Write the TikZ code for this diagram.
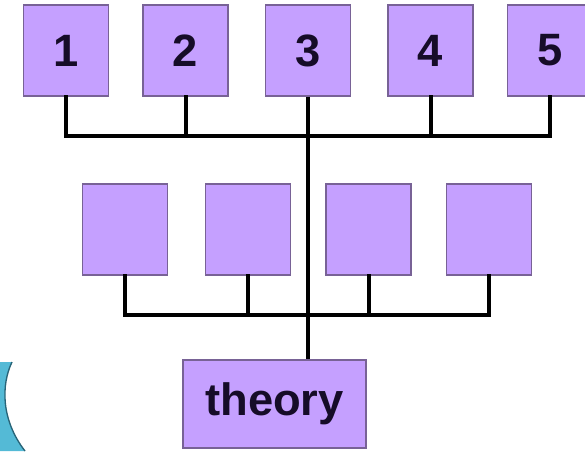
\documentclass[tikz,border=0pt]{standalone}
\usepackage{fontspec}
\setmainfont{Liberation Sans}
\begin{document}
\begin{tikzpicture}[x=0.75pt,y=0.75pt,yscale=-1,xscale=1,
  pbox/.style={draw={rgb, 255:red, 120; green, 98; blue, 150 },line width=0.8pt,fill={rgb, 255:red, 197; green, 160; blue, 255 },inner sep=0pt,minimum width=63.75pt,minimum height=68.25pt,text={rgb, 255:red, 22; green, 12; blue, 40 },font=\fontsize{34}{34}\selectfont\bfseries},
  wire/.style={line width=3pt,line cap=rect}]
\useasboundingbox (0,0) rectangle (585,451);

%Shapes [id:cyanarc]
\fill [color={rgb, 255:red, 84; green, 186; blue, 214 }  ] (0,362) -- (12,362) .. controls (1,385) and (1,420) .. (25,451) -- (0,451) -- cycle ;
\draw [color={rgb, 255:red, 40; green, 100; blue, 120 }  ,line width=1pt ] (12,362) .. controls (1,385) and (1,420) .. (25,451) ;

% Text Node
\node (t1) at (66,50.5) [pbox] {1};
% Text Node
\node (t2) at (185.5,50.5) [pbox] {2};
% Text Node
\node (t3) at (308,50.5) [pbox] {3};
% Text Node
\node (t4) at (430.5,50.5) [pbox] {4};
% Text Node
\node (t5) at (550,50.5) [pbox] {5};

% Text Node
\node (m1) at (125,229.5) [pbox] {};
% Text Node
\node (m2) at (248,229.5) [pbox] {};
% Text Node
\node (m3) at (368.5,229.5) [pbox] {};
% Text Node
\node (m4) at (489,229.5) [pbox] {};

% Text Node
\node (th) at (274.5,404) [pbox,minimum width=137.25pt,minimum height=66pt] {theory};

\coordinate (topbus) at (308,136);
\coordinate (midbus) at (308,315);

%Straight Lines [id:topbus]
\draw [wire]   (t1.south) |- (topbus) -| (t5.south) ;
\draw [wire]   (t2.south) -- (t2.south |- topbus) ;
\draw [wire]   (t4.south) -- (t4.south |- topbus) ;
%Straight Lines [id:midbus]
\draw [wire]   (m1.south) |- (midbus) -| (m4.south) ;
\draw [wire]   (m2.south) -- (m2.south |- midbus) ;
\draw [wire]   (m3.south) -- (m3.south |- midbus) ;
%Straight Lines [id:trunk]
\draw [wire,line cap=butt]   (t3.south) -- (t3.south |- th.north) ;

\end{tikzpicture}
\end{document}
